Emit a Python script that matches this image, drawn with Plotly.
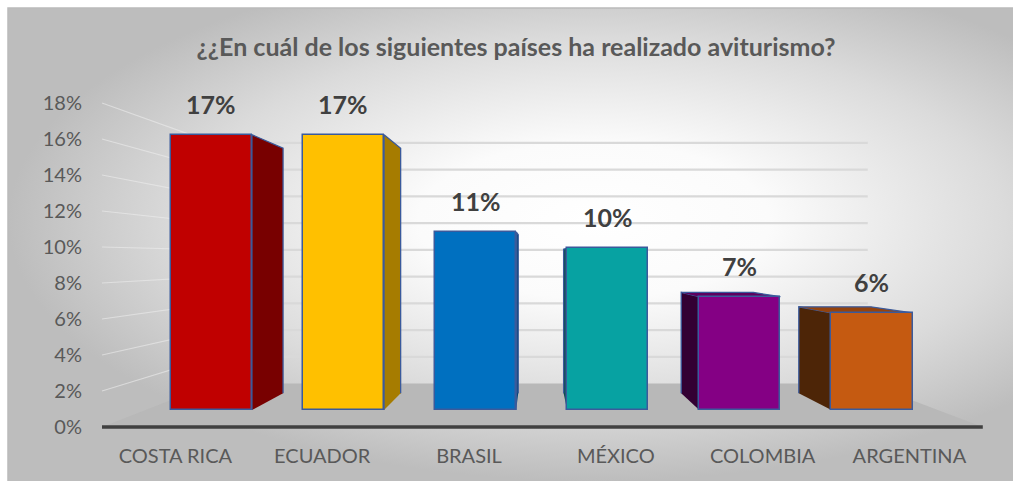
import plotly.graph_objects as go

# ---- data -------------------------------------------------------------
categories = ["COSTA RICA", "ECUADOR", "BRASIL", "MÉXICO", "COLOMBIA", "ARGENTINA"]
shares = [17, 17, 11, 10, 7, 6]                      # percent of respondents
share_labels = ["17%", "17%", "11%", "10%", "7%", "6%"]
tick_values = [0, 2, 4, 6, 8, 10, 12, 14, 16, 18]
tick_labels = ["0%", "2%", "4%", "6%", "8%", "10%", "12%", "14%", "16%", "18%"]
title_text = "¿¿En cuál de los siguientes países ha realizado aviturismo?"

# ---- style ------------------------------------------------------------
front_colors = ["#C00000", "#FFC000", "#0070C0", "#07A2A2", "#840084", "#C55A11"]
side_colors = ["#780000", "#A67C00", "#00467A", "#0B4C4C", "#330033", "#4D2507"]
top_colors = ["#8C0000", "#BF9000", "#00548F", "#087A7A", "#5E005E", "#95430D"]
OUTLINE = "#3A5A9C"
TEXT = "#595959"
FONT = "Lato"

# ---- 3-D scene geometry (perspective toward a vanishing point) ---------
W, H = 1013, 488
X0, DX = 175.4, 146.8        # pixel x of category 0 on the floor front edge, spacing
Y0, DY = 427.0, 18.0         # pixel y of 0 % on the floor front edge, pixels per %
VPX, VPY = 535.0, 258.0      # vanishing point in pixels
T_FRONT, T_BACK, T_WALL = 0.10, 0.199, 0.257   # depth of bar front, bar back, back wall
HALF = 0.307                 # half bar width (category units, front plane)
FLOOR_L, FLOOR_R = -0.5, 5.5

xr = [(0 - X0) / DX, (W - X0) / DX]
yr = [(Y0 - H) / DY, Y0 / DY]
vx = (VPX - X0) / DX
vy = (Y0 - VPY) / DY


def proj(x, y, t):
    return x + t * (vx - x), y + t * (vy - y)


def px(xp, yp):
    return (xp - X0) / DX, (Y0 - yp) / DY


# bar axes: the plane of the bar fronts
x2r = [(v - T_FRONT * vx) / (1 - T_FRONT) for v in xr]
y2r = [(v - T_FRONT * vy) / (1 - T_FRONT) for v in yr]

fig = go.Figure()

# chart area background (radial shading)
bx, by = [], []
for p in [(8, 8), (600, 8), (600, -40), (600, 8), (1013, 8), (1013, 230), (1180, 230),
          (1013, 230), (1013, 481), (8, 481)]:
    a, b = px(*p)
    bx.append(a)
    by.append(b)
fig.add_trace(go.Scatter(
    x=bx, y=by, fill="toself", mode="lines", line=dict(width=0),
    fillgradient=dict(type="radial", colorscale=[[0, "#FFFFFF"], [0.3, "#FBFBFB"],
                                                 [0.7, "#DBDBDB"], [1, "#BDBDBD"]]),
    hoverinfo="skip", showlegend=False))

# frame edges
fx, fy = [], []
for p in [(8, 481), (8, 8), (1013, 8)]:
    a, b = px(*p)
    fx.append(a)
    fy.append(b)
fig.add_trace(go.Scatter(x=fx, y=fy, mode="lines", line=dict(color="#BBBBBB", width=1.5),
                         hoverinfo="skip", showlegend=False))

# floor
fl = [proj(FLOOR_L, 0, 0), proj(FLOOR_R, 0, 0), proj(FLOOR_R, 0, T_WALL), proj(FLOOR_L, 0, T_WALL)]
fig.add_trace(go.Scatter(x=[p[0] for p in fl], y=[p[1] for p in fl], fill="toself",
                         fillcolor="#B8B8B8", mode="lines", line=dict(width=0),
                         hoverinfo="skip", showlegend=False))

# wall gridlines
lx, ly, gx, gy = [], [], [], []
for v in tick_values[1:]:
    a = proj(FLOOR_L, v, 0)
    b = proj(FLOOR_L, v, T_WALL)
    c = proj(FLOOR_R, v, T_WALL)
    lx += [a[0], b[0], None]
    ly += [a[1], b[1], None]
    gx += [b[0], c[0], None]
    gy += [b[1], c[1], None]
fig.add_trace(go.Scatter(x=lx, y=ly, mode="lines",
                         line=dict(color="rgba(236,236,236,0.6)", width=1.2),
                         hoverinfo="skip", showlegend=False))
fig.add_trace(go.Scatter(x=gx, y=gy, mode="lines", line=dict(color="#D9D9D9", width=2.2),
                         hoverinfo="skip", showlegend=False))

# floor front edge (category axis line)
e0, e1 = proj(FLOOR_L, 0, 0), proj(FLOOR_R, 0, 0)
fig.add_trace(go.Scatter(x=[e0[0], e1[0]], y=[e0[1], e1[1]], mode="lines",
                         line=dict(color="#404040", width=3.5),
                         hoverinfo="skip", showlegend=False))

# side and top faces of each bar
for i, v in enumerate(shares):
    xl, xrr = i - HALF, i + HALF
    faces = []
    if xrr < vx:
        faces.append(([proj(xrr, 0, T_FRONT), proj(xrr, v, T_FRONT), proj(xrr, v, T_BACK),
                       proj(xrr, 0, T_BACK)], side_colors[i]))
    if xl > vx:
        faces.append(([proj(xl, 0, T_FRONT), proj(xl, v, T_FRONT), proj(xl, v, T_BACK),
                       proj(xl, 0, T_BACK)], side_colors[i]))
    if v < vy:
        faces.append(([proj(xl, v, T_FRONT), proj(xrr, v, T_FRONT), proj(xrr, v, T_BACK),
                       proj(xl, v, T_BACK)], top_colors[i]))
    for pts, col in faces:
        fig.add_trace(go.Scatter(x=[p[0] for p in pts], y=[p[1] for p in pts], fill="toself",
                                 fillcolor=col, mode="lines",
                                 line=dict(color=OUTLINE, width=1.3),
                                 hoverinfo="skip", showlegend=False))

# bar fronts
fig.add_trace(go.Bar(
    x=list(range(len(categories))), y=shares, width=2 * HALF,
    xaxis="x2", yaxis="y2",
    marker=dict(color=front_colors, line=dict(color=OUTLINE, width=1.5)),
    hovertext=categories, showlegend=False))

# value labels
for i, v in enumerate(shares):
    fig.add_annotation(x=i, y=v, xref="x2", yref="y2", text=f"<b>{share_labels[i]}</b>",
                       showarrow=False, yanchor="middle", yshift=31,
                       font=dict(family=FONT, size=25, color="#404040"))

fig.update_layout(
    width=W, height=H, autosize=False,
    margin=dict(l=0, r=0, t=0, b=0),
    paper_bgcolor="#FFFFFF", plot_bgcolor="rgba(0,0,0,0)",
    title=dict(text=f"<b>{title_text}</b>", x=516 / W, y=1 - 47 / H,
               xanchor="center", yanchor="middle",
               font=dict(family=FONT, size=25, color=TEXT)),
    xaxis=dict(range=xr, domain=[0, 1], anchor="free", position=(H - 442) / H,
               tickvals=list(range(len(categories))), ticktext=categories,
               showgrid=False, zeroline=False, showline=False, ticks="",
               tickfont=dict(family=FONT, size=20, color=TEXT)),
    yaxis=dict(range=yr, domain=[0, 1], anchor="free", position=82 / W,
               tickvals=tick_values, ticktext=tick_labels,
               showgrid=False, zeroline=False, showline=False, ticks="",
               tickfont=dict(family=FONT, size=20, color=TEXT)),
    xaxis2=dict(range=x2r, overlaying="x", visible=False),
    yaxis2=dict(range=y2r, overlaying="y", visible=False),
    bargap=0,
)

fig.write_html("out.html")
